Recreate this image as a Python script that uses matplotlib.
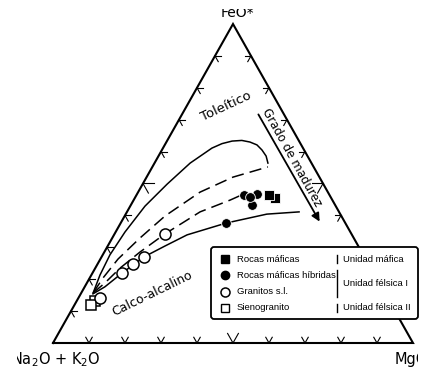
import numpy as np
import matplotlib
matplotlib.use("Agg")
import matplotlib.pyplot as plt
from matplotlib.patches import FancyBboxPatch
from matplotlib.transforms import Bbox

# AFM ternary data, values in % (FeO*, MgO); Na2O+K2O is the remainder
upper_solid_F = [15.7, 21.3, 27.6, 34.8, 42.9, 49.8, 56.4, 61.1, 62.5, 63.3, 63.5, 63.0,
                 62.1, 60.5, 58.6, 56.4]
upper_solid_M = [3.3, 2.4, 2.0, 2.6, 4.1, 6.8, 9.9, 13.6, 15.7, 18.1, 20.7, 23.2,
                 25.6, 27.8, 29.9, 31.5]
upper_dash_F = [15.7, 20.4, 26.3, 32.9, 39.8, 47.3, 52.0, 55.2]
upper_dash_M = [3.3, 3.7, 4.9, 7.7, 11.2, 17.2, 24.0, 32.1]
lower_dash_F = [15.7, 18.8, 23.5, 28.5, 34.2, 41.1, 44.8, 47.3]
lower_dash_M = [3.3, 5.0, 6.9, 9.9, 14.0, 20.3, 26.8, 30.5]
lower_solid_F = [15.4, 17.6, 21.9, 27.0, 30.4, 33.9, 37.6, 40.4, 41.1]
lower_solid_M = [3.4, 5.6, 8.2, 11.8, 15.9, 20.3, 29.3, 39.2, 47.8]

mafic_F = [45.5, 46.4]              # Rocas máficas
mafic_M = [38.9, 36.8]
hybrid_F = [37.6, 46.7, 43.3, 46.4, 45.8]   # Rocas máficas híbridas
hybrid_M = [29.3, 33.3, 33.6, 29.9, 31.8]
granite_F = [14.1, 21.9, 24.8, 27.0, 34.2]  # Granitos s.l.
granite_M = [6.0, 8.2, 9.8, 11.8, 14.0]
sieno_F = [13.2, 11.9]              # Sienogranito
sieno_M = [5.1, 4.6]

legend_labels = ["Rocas máficas", "Rocas máficas híbridas", "Granitos s.l.", "Sienogranito"]
unit_labels = ["Unidad máfica", "Unidad félsica I", "Unidad félsica II"]


def tern(F, M):
    F = np.asarray(F, float) / 100
    M = np.asarray(M, float) / 100
    return M + F / 2, F


fig = plt.figure(figsize=(4.35, 3.77), dpi=100)
ax = fig.add_axes([0, 0, 1, 1])
ax.set_xlim(-53 / 360, 382 / 360)
ax.set_ylim(-34 / 319, 343 / 319)
ax.axis("off")

# triangle
ax.plot([0, 1, 0.5, 0], [0, 0, 1, 0], color="k", lw=1.5, solid_joinstyle="miter")

# small chevron ticks every 10 %
d = 1.8
for t in range(10, 100, 10):
    L = 3.0 if t == 50 else d
    # bottom edge (F=0)
    for (F1, M1) in [(L, t - L), (L, t)]:
        x, y = tern([0, F1], [t, M1])
        ax.plot(x, y, color="k", lw=0.8)
    # left edge (M=0)
    for (F1, M1) in [(t, L), (t - L, L)]:
        x, y = tern([t, F1], [0, M1])
        ax.plot(x, y, color="k", lw=0.8)
    # right edge (A=0): F + M = 100
    for (F1, M1) in [(t - L, 100 - t), (t, 100 - t - L)]:
        x, y = tern([t, F1], [100 - t, M1])
        ax.plot(x, y, color="k", lw=0.8)

# trend curves
ax.plot(*tern(upper_solid_F, upper_solid_M), color="k", lw=1.1)
ax.plot(*tern(upper_dash_F, upper_dash_M), color="k", lw=1.1, ls=(0, (8, 4)))
ax.plot(*tern(lower_dash_F, lower_dash_M), color="k", lw=1.1, ls=(0, (8, 4)))
ax.plot(*tern(lower_solid_F, lower_solid_M), color="k", lw=1.1)

# samples
ax.plot(*tern(sieno_F, sieno_M), "s", ms=7.5, mfc="white", mec="k", mew=1.1, ls="none")
ax.plot(*tern(granite_F, granite_M), "o", ms=8, mfc="white", mec="k", mew=1.1, ls="none")
ax.plot(*tern(hybrid_F, hybrid_M), "o", ms=7, mfc="k", mec="white", mew=0.6, ls="none")
ax.plot(*tern(mafic_F, mafic_M), "s", ms=6.5, mfc="k", mec="white", mew=0.6, ls="none")

# overlay in pixel coordinates for labels and legend
ov = fig.add_axes([0, 0, 1, 1])
ov.set_xlim(0, 435)
ov.set_ylim(377, 0)
ov.axis("off")
ov.patch.set_visible(False)

ov.text(226, 106, "Toleítico", rotation=25, fontsize=9.5, ha="center", va="center",
        rotation_mode="anchor")
ov.text(152, 294, "Calco-alcalino", rotation=26, fontsize=9, ha="center", va="center",
        rotation_mode="anchor")
ov.text(292, 158, "Grado de madurez", rotation=-61, fontsize=8.5, ha="center", va="center",
        rotation_mode="anchor")
ov.annotate("", xy=(321, 224), xytext=(257, 112),
            arrowprops=dict(arrowstyle="-|>", lw=1.3, color="k", mutation_scale=12))

t1 = ov.text(237, 17, "FeO*", fontsize=10, ha="center", va="baseline")
t1.set_clip_box(Bbox([[0, 0], [435, 368]]))
t2 = ov.text(11, 364, r"Na$_2$O + K$_2$O", fontsize=10.5, ha="left", va="baseline")
t2.set_clip_box(Bbox([[17, 0], [435, 377]]))
t3 = ov.text(395, 364, "MgO", fontsize=10.5, ha="left", va="baseline")
t3.set_clip_box(Bbox([[0, 0], [418, 377]]))
for t in (t1, t2, t3):
    t.set_clip_on(True)

# legend
box = FancyBboxPatch((211, 247), 207, 72, boxstyle="round,pad=0,rounding_size=3",
                     fc="white", ec="k", lw=1.3, zorder=5)
ov.add_patch(box)
rows = [259, 275, 292, 308]
styles = [dict(marker="s", ms=5.5, mfc="k", mec="k"),
          dict(marker="o", ms=6, mfc="k", mec="k"),
          dict(marker="o", ms=6.5, mfc="white", mec="k", mew=1.1),
          dict(marker="s", ms=6, mfc="white", mec="k", mew=1.0)]
lfont = dict(family=["Liberation Sans", "DejaVu Sans"], fontsize=6.8)
for y, lab, st in zip(rows, legend_labels, styles):
    ov.plot([225], [y], ls="none", zorder=6, **st)
    ov.text(237, y, lab, va="center", ha="left", zorder=6, **lfont)
ov.plot([337, 337], [255, 263], color="k", lw=1.0, zorder=6)
ov.plot([337, 337], [270, 297], color="k", lw=1.0, zorder=6)
ov.plot([337, 337], [304, 312], color="k", lw=1.0, zorder=6)
for y, lab in zip([259, 283, 308], unit_labels):
    ov.text(343, y, lab, va="center", ha="left", zorder=6, **lfont)

fig.savefig("out.png", dpi=100)
